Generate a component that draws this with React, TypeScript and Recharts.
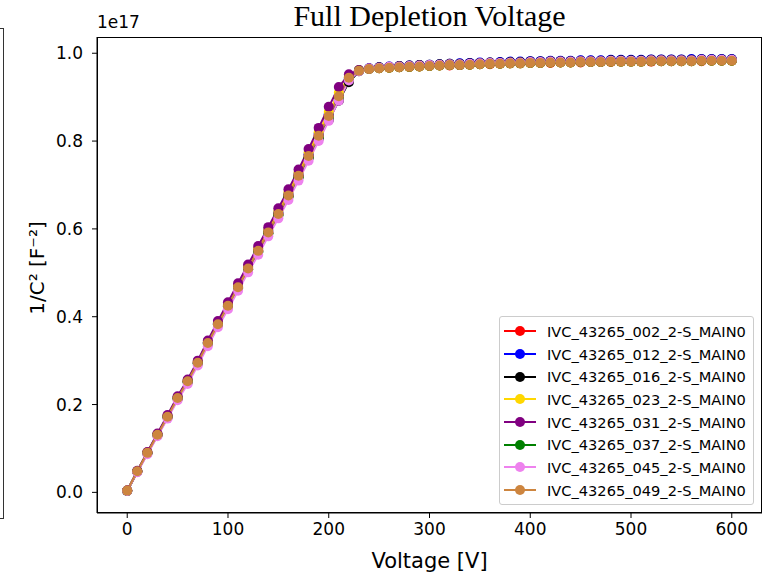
import { Line, LineChart, XAxis, YAxis } from 'recharts';

const voltages = [
	0, 10, 20, 30, 40, 50, 60, 70, 80, 90, 100, 110, 120, 130, 140, 150, 160, 170, 180, 190,
	200, 210, 220, 230, 240, 250, 260, 270, 280, 290, 300, 310, 320, 330, 340, 350, 360, 370,
	380, 390, 400, 410, 420, 430, 440, 450, 460, 470, 480, 490, 500, 510, 520, 530, 540, 550,
	560, 570, 580, 590, 600,
];

// 1/C^2 in units of 1e17 F^-2
const s002 = [0.004,0.048,0.090,0.131,0.173,0.215,0.253,0.296,0.341,0.384,0.426,0.468,0.511,0.551,0.593,0.635,0.677,0.722,0.767,0.813,0.858,0.903,0.945,0.961,0.964,0.966,0.967,0.968,0.969,0.970,0.971,0.972,0.972,0.973,0.974,0.975,0.975,0.976,0.977,0.977,0.978,0.978,0.978,0.979,0.979,0.979,0.980,0.980,0.980,0.981,0.981,0.981,0.981,0.982,0.982,0.982,0.982,0.982,0.983,0.983,0.983];
const s012 = [0.004,0.048,0.090,0.132,0.173,0.216,0.254,0.297,0.342,0.385,0.428,0.470,0.513,0.554,0.596,0.638,0.680,0.725,0.770,0.816,0.861,0.905,0.943,0.961,0.966,0.968,0.970,0.971,0.972,0.973,0.974,0.975,0.976,0.977,0.978,0.979,0.979,0.980,0.981,0.981,0.982,0.982,0.983,0.983,0.983,0.984,0.984,0.984,0.985,0.985,0.985,0.985,0.986,0.986,0.986,0.986,0.987,0.987,0.987,0.987,0.987];
const s016 = [0.003,0.047,0.089,0.130,0.171,0.214,0.252,0.294,0.339,0.382,0.424,0.466,0.508,0.549,0.590,0.632,0.674,0.718,0.762,0.806,0.848,0.892,0.934,0.959,0.965,0.968,0.969,0.971,0.972,0.973,0.974,0.975,0.976,0.976,0.977,0.978,0.979,0.979,0.980,0.980,0.981,0.981,0.982,0.982,0.982,0.983,0.983,0.983,0.984,0.984,0.984,0.984,0.985,0.985,0.985,0.985,0.985,0.986,0.986,0.986,0.986];
const s023 = [0.004,0.048,0.091,0.132,0.174,0.216,0.255,0.298,0.343,0.387,0.429,0.472,0.515,0.556,0.598,0.641,0.683,0.728,0.774,0.820,0.866,0.910,0.947,0.961,0.964,0.966,0.967,0.968,0.969,0.970,0.971,0.972,0.973,0.974,0.974,0.975,0.976,0.976,0.977,0.977,0.978,0.978,0.979,0.979,0.979,0.980,0.980,0.980,0.981,0.981,0.981,0.981,0.982,0.982,0.982,0.982,0.982,0.983,0.983,0.983,0.983];
const s031 = [0.004,0.049,0.092,0.134,0.176,0.219,0.257,0.300,0.346,0.390,0.433,0.476,0.519,0.561,0.604,0.647,0.690,0.735,0.782,0.830,0.878,0.923,0.952,0.962,0.965,0.967,0.968,0.969,0.970,0.971,0.972,0.973,0.974,0.974,0.975,0.976,0.977,0.977,0.978,0.978,0.979,0.979,0.980,0.980,0.980,0.981,0.981,0.981,0.982,0.982,0.982,0.982,0.983,0.983,0.983,0.983,0.983,0.984,0.984,0.984,0.984];
const s037 = [0.003,0.047,0.089,0.130,0.171,0.213,0.251,0.293,0.338,0.381,0.423,0.465,0.507,0.547,0.589,0.631,0.673,0.717,0.762,0.808,0.853,0.898,0.941,0.960,0.964,0.966,0.967,0.968,0.969,0.970,0.971,0.972,0.973,0.973,0.974,0.975,0.976,0.976,0.977,0.977,0.978,0.978,0.979,0.979,0.979,0.980,0.980,0.980,0.981,0.981,0.981,0.981,0.982,0.982,0.982,0.982,0.982,0.983,0.983,0.983,0.983];
const s045 = [0.003,0.046,0.087,0.128,0.168,0.210,0.247,0.289,0.333,0.376,0.417,0.459,0.501,0.541,0.583,0.624,0.666,0.710,0.755,0.800,0.846,0.892,0.938,0.959,0.965,0.967,0.969,0.970,0.971,0.972,0.973,0.974,0.975,0.975,0.976,0.977,0.978,0.978,0.979,0.979,0.980,0.980,0.981,0.981,0.981,0.982,0.982,0.982,0.983,0.983,0.983,0.983,0.984,0.984,0.984,0.984,0.984,0.985,0.985,0.985,0.985];
const s049 = [0.004,0.048,0.090,0.131,0.172,0.215,0.253,0.295,0.340,0.383,0.425,0.467,0.510,0.550,0.592,0.634,0.676,0.721,0.766,0.812,0.857,0.902,0.944,0.960,0.964,0.966,0.967,0.968,0.969,0.970,0.971,0.972,0.973,0.973,0.974,0.975,0.976,0.976,0.977,0.977,0.978,0.978,0.979,0.979,0.979,0.980,0.980,0.980,0.981,0.981,0.981,0.981,0.982,0.982,0.982,0.982,0.982,0.983,0.983,0.983,0.983];

const seriesNames = [
	'IVC_43265_002_2-S_MAIN0',
	'IVC_43265_012_2-S_MAIN0',
	'IVC_43265_016_2-S_MAIN0',
	'IVC_43265_023_2-S_MAIN0',
	'IVC_43265_031_2-S_MAIN0',
	'IVC_43265_037_2-S_MAIN0',
	'IVC_43265_045_2-S_MAIN0',
	'IVC_43265_049_2-S_MAIN0',
];
const seriesValues = [s002, s012, s016, s023, s031, s037, s045, s049];
const seriesColors = ['#ff0000', '#0000ff', '#000000', '#ffd700', '#800080', '#008000', '#ee82ee', '#cd853f'];

const xTicks = [0, 100, 200, 300, 400, 500, 600];
const yTicks = [0, 0.2, 0.4, 0.6, 0.8, 1.0];

const data = voltages.map((v, i) => {
	const row: Record<string, number> = { v };
	seriesNames.forEach((name, k) => {
		row[name] = seriesValues[k][i];
	});
	return row;
});

const font = '"DejaVu Sans", sans-serif';

function LegendBox() {
	return (
		<div
			style={{
				position: 'absolute',
				left: 499,
				top: 316,
				width: 255,
				boxSizing: 'border-box',
				border: '1px solid #ccc',
				borderRadius: 3,
				background: 'rgba(255,255,255,0.8)',
				padding: '3px 0 2px 0',
				fontFamily: font,
				fontSize: 14.6,
				color: '#000',
				zIndex: 3,
			}}
		>
			{seriesNames.map((name, k) => (
				<div key={name} style={{ display: 'flex', alignItems: 'center', height: 22.7 }}>
					<svg width={44} height={14} style={{ marginLeft: 3 }}>
						<line x1={1} y1={7} x2={33} y2={7} stroke={seriesColors[k]} strokeWidth={2} />
						<circle cx={17} cy={7} r={5} fill={seriesColors[k]} />
					</svg>
					<span>{name}</span>
				</div>
			))}
		</div>
	);
}

function YLabel() {
	return (
		<text
			x={37}
			y={268}
			transform="rotate(-90 37 268)"
			textAnchor="middle"
			dominantBaseline="central"
			fill="#000"
			fontFamily={font}
			fontSize={20}
		>
			1/C² [F⁻²]
		</text>
	);
}

export default function App() {
	return (
		<div style={{ position: 'absolute', left: 0, top: 0, width: 768, height: 577, background: '#fff' }}>
			<div
				style={{
					position: 'absolute',
					left: -20,
					top: 28,
					width: 22,
					height: 489,
					border: '1.5px solid #333',
				}}
			/>
			<div
				style={{
					position: 'absolute',
					left: 97,
					top: 37,
					width: 665,
					height: 476,
					boxSizing: 'border-box',
					border: '1.3px solid #000',
					pointerEvents: 'none',
					zIndex: 2,
				}}
			/>
			<div
				style={{
					position: 'absolute',
					left: 0,
					width: 859,
					top: -1,
					textAlign: 'center',
					fontFamily: '"Liberation Serif", "Times New Roman", serif',
					fontSize: 30,
					color: '#000',
				}}
			>
				Full Depletion Voltage
			</div>
			<div style={{ position: 'absolute', left: 97, top: 12, fontFamily: font, fontSize: 17, color: '#000' }}>
				1e17
			</div>
			<LineChart width={768} height={577} data={data} margin={{ top: 37, right: 6, bottom: 0, left: 0 }}>
				<XAxis
					dataKey="v"
					type="number"
					domain={[-30, 630]}
					ticks={xTicks}
					allowDataOverflow
					height={64}
					tickSize={5}
					tickMargin={5}
					stroke="#000"
					tick={{ fill: '#000', fontFamily: font, fontSize: 17 }}
					label={{
						value: 'Voltage [V]',
						position: 'insideBottom',
						offset: 9,
						fill: '#000',
						fontFamily: font,
						fontSize: 21,
					}}
				/>
				<YAxis
					type="number"
					domain={[-0.047, 1.037]}
					ticks={yTicks}
					allowDataOverflow
					width={97}
					tickSize={5}
					tickMargin={9}
					stroke="#000"
					tickFormatter={(v: number) => v.toFixed(1)}
					tick={{ fill: '#000', fontFamily: font, fontSize: 17 }}
					label={<YLabel />}
				/>
				{seriesNames.map((name, k) => (
					<Line
						key={name}
						type="linear"
						dataKey={name}
						stroke={seriesColors[k]}
						strokeWidth={2}
						dot={{ r: 5, fill: seriesColors[k], stroke: 'none' }}
						isAnimationActive={false}
					/>
				))}
			</LineChart>
			<LegendBox />
		</div>
	);
}
